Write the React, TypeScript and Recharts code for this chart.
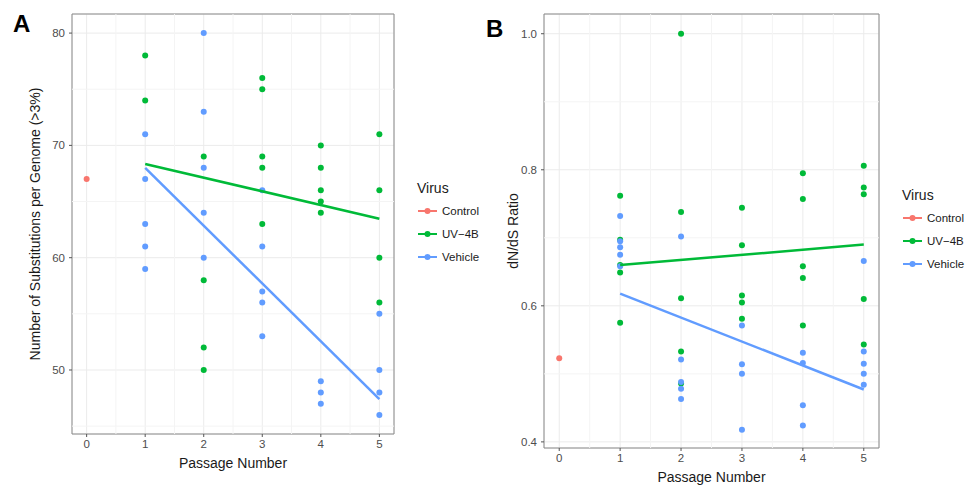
import { ScatterChart, Scatter, XAxis, YAxis, CartesianGrid, ReferenceLine, ReferenceArea } from "recharts";

const passageTicks = [0, 1, 2, 3, 4, 5];
const passageMinor = [0.5, 1.5, 2.5, 3.5, 4.5];
const fitPassages = [1, 5];

// panel A - substitutions per genome, one list per passage (1..5)
const subsControl = [67];
const subsUV4B = [
  [78, 74],
  [69, 58, 52, 50],
  [76, 75, 69, 68, 63],
  [70, 68, 66, 65, 64],
  [71, 66, 60, 56],
];
const subsVehicle = [
  [71, 67, 63, 61, 59],
  [80, 73, 68, 64, 60],
  [66, 61, 57, 56, 53],
  [49, 48, 47],
  [55, 50, 48, 46],
];
const subsFitUV4B = [68.35, 63.47];
const subsFitVehicle = [68.0, 47.4];
const subsTicks = [50, 60, 70, 80];
const subsMinor = [45, 55, 65, 75];

// panel B - dN/dS ratio
const ratioControl = [0.523];
const ratioUV4B = [
  [0.762, 0.697, 0.66, 0.649, 0.575],
  [1.0, 0.738, 0.611, 0.533, 0.486],
  [0.744, 0.689, 0.615, 0.605, 0.581],
  [0.795, 0.757, 0.658, 0.641, 0.571],
  [0.806, 0.774, 0.764, 0.61, 0.543],
];
const ratioVehicle = [
  [0.732, 0.695, 0.686, 0.675, 0.658],
  [0.702, 0.521, 0.488, 0.478, 0.463],
  [0.571, 0.514, 0.5, 0.418],
  [0.531, 0.516, 0.454, 0.424],
  [0.666, 0.533, 0.515, 0.5, 0.484],
];
const ratioFitUV4B = [0.66, 0.69];
const ratioFitVehicle = [0.618, 0.477];
const ratioTicks = [0.4, 0.6, 0.8, 1.0];
const ratioMinor = [0.5, 0.7, 0.9];

const RED = "#F8766D";
const GREEN = "#00BA38";
const BLUE = "#619CFF";
const FONT = "'Liberation Sans', Arial, Helvetica, sans-serif";

const groupsToPoints = (groups: number[][]) =>
  groups.flatMap((vals, i) => vals.map((v) => ({ x: i + 1, y: v })));
const fitToPoints = (vals: number[]) => vals.map((v, i) => ({ x: fitPassages[i], y: v }));

const dot = (color: string) => (props: any) =>
  <circle cx={props.cx} cy={props.cy} r={3} fill={color} />;
const noDot = () => <g />;

interface PanelProps {
  width: number;
  height: number;
  yWidth: number;
  xHeight: number;
  yDomain: [number, number];
  yTicks: number[];
  yMinor: number[];
  control: number[];
  uv: number[][];
  vehicle: number[][];
  fitUv: number[];
  fitVehicle: number[];
  yFormat?: (v: number) => string;
}

const Panel = (p: PanelProps) => {
  const tick = { fill: "#4d4d4d", fontSize: 11.5, fontFamily: FONT };
  return (
    <ScatterChart width={p.width} height={p.height} margin={{ top: 14, right: 6, left: 0, bottom: 0 }}>
      <CartesianGrid stroke="#ebebeb" strokeWidth={1} />
      {passageMinor.map((v) => (
        <ReferenceLine key={"x" + v} x={v} stroke="#f4f4f4" strokeWidth={1} />
      ))}
      {p.yMinor.map((v) => (
        <ReferenceLine key={"y" + v} y={v} stroke="#f4f4f4" strokeWidth={1} />
      ))}
      <XAxis
        type="number"
        dataKey="x"
        domain={[-0.25, 5.25]}
        ticks={passageTicks}
        allowDataOverflow
        height={p.xHeight}
        axisLine={false}
        tickLine={{ stroke: "#555" }}
        tickSize={3}
        tickMargin={3}
        tick={tick}
      />
      <YAxis
        type="number"
        dataKey="y"
        domain={p.yDomain}
        ticks={p.yTicks}
        allowDataOverflow
        width={p.yWidth}
        axisLine={false}
        tickLine={{ stroke: "#555" }}
        tickSize={3}
        tickMargin={4}
        tick={tick}
        tickFormatter={p.yFormat}
      />
      <Scatter data={p.control.map((v) => ({ x: 0, y: v }))} shape={dot(RED)} isAnimationActive={false} />
      <Scatter data={groupsToPoints(p.uv)} shape={dot(GREEN)} isAnimationActive={false} />
      <Scatter data={groupsToPoints(p.vehicle)} shape={dot(BLUE)} isAnimationActive={false} />
      <Scatter
        data={fitToPoints(p.fitUv)}
        line={{ stroke: GREEN, strokeWidth: 2.5 }}
        shape={noDot}
        isAnimationActive={false}
      />
      <Scatter
        data={fitToPoints(p.fitVehicle)}
        line={{ stroke: BLUE, strokeWidth: 2.5 }}
        shape={noDot}
        isAnimationActive={false}
      />
      <ReferenceArea
        x1={-0.25}
        x2={5.25}
        y1={p.yDomain[0]}
        y2={p.yDomain[1]}
        fill="none"
        fillOpacity={0}
        stroke="#8a8a8a"
        strokeWidth={1}
      />
    </ScatterChart>
  );
};

const legendItems = [
  { name: "Control", color: RED },
  { name: "UV\u22124B", color: GREEN },
  { name: "Vehicle", color: BLUE },
];

const Legend = ({ x, y }: { x: number; y: number }) => (
  <g fontFamily={FONT}>
    <text x={x} y={y} fontSize={14} fill="#1a1a1a">Virus</text>
    {legendItems.map((it, i) => (
      <g key={it.name}>
        <line x1={x + 1} x2={x + 20} y1={y + 18 + i * 23} y2={y + 18 + i * 23} stroke={it.color} strokeWidth={2} />
        <circle cx={x + 10.5} cy={y + 18 + i * 23} r={3} fill={it.color} />
        <text x={x + 25} y={y + 22 + i * 23} fontSize={11.5} fill="#1a1a1a">{it.name}</text>
      </g>
    ))}
  </g>
);

export default function App() {
  return (
    <div style={{ position: "absolute", left: 0, top: 0, width: 971, height: 487, background: "#fff", overflow: "hidden" }}>
      <div style={{ position: "absolute", left: 0, top: 0 }}>
        <Panel
          width={400}
          height={487}
          yWidth={72}
          xHeight={53}
          yDomain={[44.3, 81.7]}
          yTicks={subsTicks}
          yMinor={subsMinor}
          control={subsControl}
          uv={subsUV4B}
          vehicle={subsVehicle}
          fitUv={subsFitUV4B}
          fitVehicle={subsFitVehicle}
        />
      </div>
      <div style={{ position: "absolute", left: 480, top: 0 }}>
        <Panel
          width={405}
          height={487}
          yWidth={64}
          xHeight={39}
          yDomain={[0.391, 1.029]}
          yTicks={ratioTicks}
          yMinor={ratioMinor}
          control={ratioControl}
          uv={ratioUV4B}
          vehicle={ratioVehicle}
          fitUv={ratioFitUV4B}
          fitVehicle={ratioFitVehicle}
          yFormat={(v) => v.toFixed(1)}
        />
      </div>
      <svg width={971} height={487} style={{ position: "absolute", left: 0, top: 0, pointerEvents: "none" }}>
        <g fontFamily={FONT} fill="#000">
          <text x={13} y={32} fontSize={24} fontWeight="bold">A</text>
          <text x={486} y={37} fontSize={24} fontWeight="bold">B</text>
        </g>
        <g fontFamily={FONT} fill="#1a1a1a" fontSize={14} textAnchor="middle">
          <text transform="translate(40,224) rotate(-90)">Number of Substitutions per Genome (&gt;3%)</text>
          <text transform="translate(518,231) rotate(-90)">dN/dS Ratio</text>
          <text x={233} y={468}>Passage Number</text>
          <text x={711.5} y={482}>Passage Number</text>
        </g>
        <Legend x={417} y={193} />
        <Legend x={902} y={200} />
      </svg>
    </div>
  );
}
